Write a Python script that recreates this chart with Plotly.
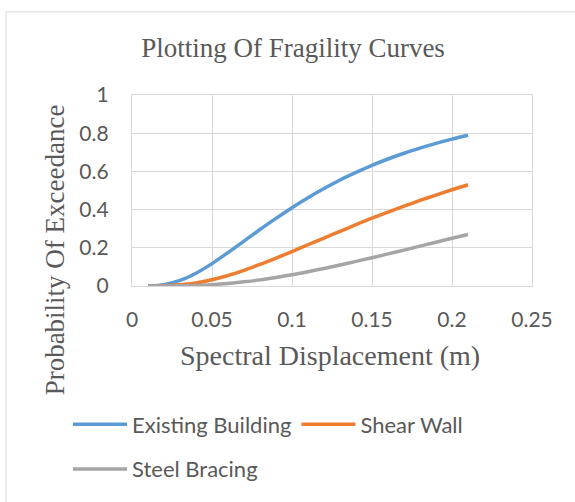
import plotly.graph_objects as go

x_vals = [0.01, 0.02, 0.03, 0.04, 0.05, 0.06, 0.07, 0.08, 0.09, 0.10, 0.11,
          0.12, 0.13, 0.14, 0.15, 0.16, 0.17, 0.18, 0.19, 0.20, 0.21]
existing_building = [0.000, 0.007, 0.029, 0.067, 0.117, 0.175, 0.235, 0.296, 0.354, 0.410, 0.462,
                     0.510, 0.555, 0.595, 0.632, 0.665, 0.695, 0.722, 0.747, 0.769, 0.789]
shear_wall = [0.000, 0.001, 0.006, 0.016, 0.033, 0.055, 0.082, 0.113, 0.146, 0.180, 0.216,
              0.251, 0.286, 0.321, 0.355, 0.387, 0.418, 0.448, 0.476, 0.504, 0.530]
steel_bracing = [0.000, 0.000, 0.001, 0.003, 0.007, 0.013, 0.022, 0.032, 0.045, 0.059, 0.075,
                 0.092, 0.110, 0.129, 0.148, 0.168, 0.188, 0.209, 0.229, 0.250, 0.270]
x_ticks = [0, 0.05, 0.1, 0.15, 0.2, 0.25]
x_tick_text = ["0", "0.05", "0.1", "0.15", "0.2", "0.25"]
y_ticks = [0, 0.2, 0.4, 0.6, 0.8, 1]
y_tick_text = ["0", "0.2", "0.4", "0.6", "0.8", "1"]

series = [
    ("Existing Building", existing_building, "#5B9BD5", "legend"),
    ("Shear Wall", shear_wall, "#ED7D31", "legend"),
    ("Steel Bracing", steel_bracing, "#A5A5A5", "legend2"),
]

fig = go.Figure()
for name, vals, col, lg in series:
    fig.add_trace(go.Scatter(x=x_vals, y=vals, name=name, mode="lines", legend=lg,
                             line=dict(color=col, width=3.5, shape="spline", smoothing=0.8)))

W, H = 575, 502
L, R, T, B = 132, 43, 95, 214
pw, ph = W - L - R, H - T - B

def px(xp):
    return (xp - L) / pw

def py(yp):
    return (H - B - yp) / ph

serif = "Liberation Serif, Times New Roman, serif"
sans = "Lato, Open Sans, sans-serif"
grey = "#595959"
grid = "#D9D9D9"

legend_style = dict(orientation="h", xanchor="left", yanchor="middle",
                    font=dict(family=sans, size=22, color=grey), itemwidth=54,
                    bgcolor="rgba(0,0,0,0)")

fig.update_layout(
    width=W, height=H,
    margin=dict(l=L, r=R, t=T, b=B),
    paper_bgcolor="white", plot_bgcolor="white",
    title=dict(text="Plotting Of Fragility Curves", font=dict(family=serif, size=27, color=grey),
               xref="container", x=293 / W, xanchor="center",
               yref="container", y=1 - 48 / H, yanchor="middle"),
    xaxis=dict(range=[0, 0.25], tickvals=x_ticks, ticktext=x_tick_text,
               showgrid=True, gridcolor=grid, gridwidth=1.3,
               showline=True, linecolor=grid, linewidth=1.3, mirror=True,
               zeroline=False, ticks="", ticklabelstandoff=15,
               tickfont=dict(family=sans, size=21, color=grey)),
    yaxis=dict(range=[0, 1], tickvals=y_ticks, ticktext=y_tick_text,
               showgrid=True, gridcolor=grid, gridwidth=1.3,
               showline=True, linecolor=grid, linewidth=1.3, mirror=True,
               zeroline=False, ticks="", ticklabelstandoff=18,
               tickfont=dict(family=sans, size=21, color=grey)),
    showlegend=True,
    legend=dict(x=px(68), y=py(428), **legend_style),
    legend2=dict(x=px(68), y=py(473), **legend_style),
    annotations=[
        dict(text="Probability Of Exceedance", textangle=-90, showarrow=False,
             xref="paper", yref="paper", x=px(55), y=py(252), xanchor="center", yanchor="middle",
             font=dict(family=serif, size=27, color=grey)),
        dict(text="Spectral Displacement (m)", showarrow=False,
             xref="paper", yref="paper", x=px(330), y=py(358), xanchor="center", yanchor="middle",
             font=dict(family=serif, size=28, color=grey)),
    ],
    shapes=[
        dict(type="rect", xref="paper", yref="paper", x0=px(6), y0=py(560), x1=px(640), y1=py(11),
             line=dict(color="#D9D9D9", width=1), fillcolor="rgba(0,0,0,0)", layer="below"),
    ],
)

fig.write_html("out.html",
               config={"displayModeBar": False},
               post_script="document.body.style.margin='0';document.body.style.padding='0';")
